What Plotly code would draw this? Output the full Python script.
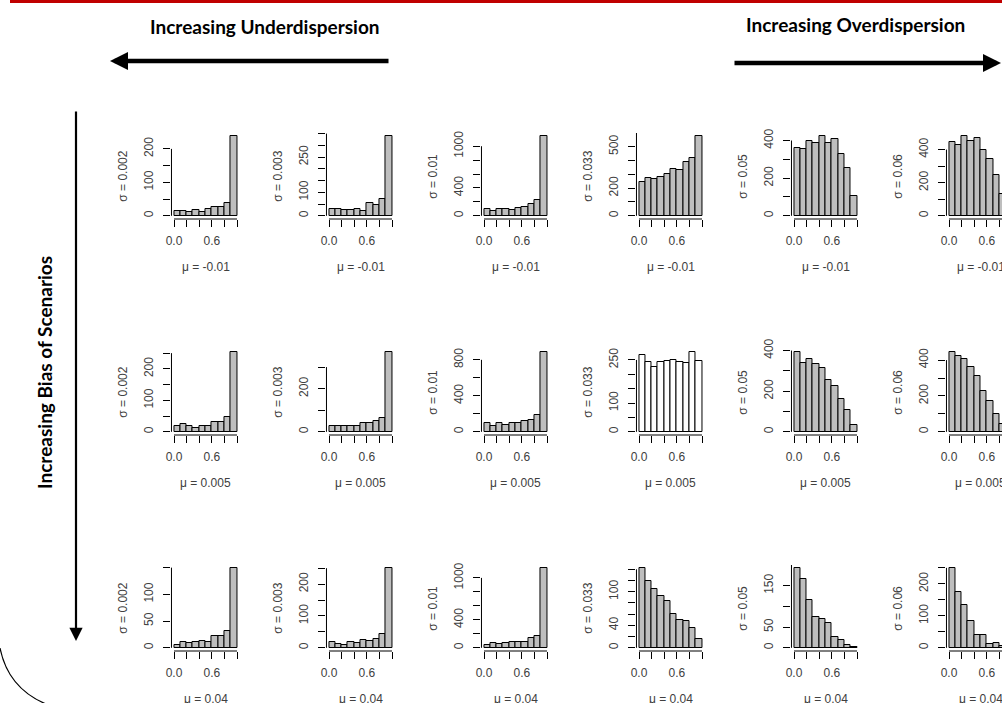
import plotly.graph_objects as go

# ---------------- data ----------------
bin_centers = [0.05, 0.15, 0.25, 0.35, 0.45, 0.55, 0.65, 0.75, 0.85, 0.95]
sigma_labels = ["0.002", "0.003", "0.01", "0.033", "0.05", "0.06"]
mu_labels = ["-0.01", "0.005", "0.04"]

counts_r1c1 = [14, 14, 11, 17, 12, 20, 25, 25, 37, 238]
counts_r1c2 = [27, 29, 24, 24, 29, 21, 53, 46, 70, 339]
counts_r1c3 = [91, 72, 91, 91, 81, 115, 120, 163, 225, 1144]
counts_r1c4 = [247, 271, 264, 283, 303, 337, 329, 390, 421, 576]
counts_r1c5 = [362, 356, 395, 388, 423, 388, 409, 330, 254, 106]
counts_r1c6 = [447, 427, 481, 451, 473, 396, 346, 245, 131, 60]
counts_r2c1 = [20, 26, 20, 13, 18, 17, 30, 32, 48, 253]
counts_r2c2 = [25, 25, 26, 26, 29, 40, 40, 49, 62, 369]
counts_r2c3 = [103, 66, 96, 81, 103, 96, 125, 129, 192, 885]
counts_r2c4 = [266, 244, 227, 244, 246, 249, 242, 241, 277, 246]
counts_r2c5 = [392, 338, 359, 333, 315, 255, 227, 163, 109, 36]
counts_r2c6 = [444, 422, 405, 363, 313, 230, 172, 102, 46, 20]
counts_r3c1 = [5, 11, 9, 11, 12, 11, 22, 23, 32, 149]
counts_r3c2 = [17, 13, 8, 17, 14, 24, 22, 28, 44, 250]
counts_r3c3 = [43, 62, 53, 62, 77, 86, 81, 134, 172, 1139]
counts_r3c4 = [142, 120, 104, 92, 83, 61, 49, 47, 36, 16]
counts_r3c5 = [192, 165, 115, 75, 69, 60, 26, 20, 8, 3]
counts_r3c6 = [249, 173, 133, 85, 39, 39, 12, 14, 5, 2]

# y tick values and the labels that are printed
yticks = [
    [0, 50, 100, 150, 200], [0, 50, 100, 150, 200, 250, 300, 350],
    [0, 200, 400, 600, 800, 1000], [0, 100, 200, 300, 400, 500, 600],
    [0, 100, 200, 300, 400], [0, 100, 200, 300, 400],
    [0, 50, 100, 150, 200, 250], [0, 100, 200, 300],
    [0, 200, 400, 600, 800], [0, 50, 100, 150, 200, 250],
    [0, 100, 200, 300, 400], [0, 100, 200, 300, 400],
    [0, 50, 100, 150], [0, 50, 100, 150, 200, 250],
    [0, 200, 400, 600, 800, 1000], [0, 20, 40, 60, 80, 100, 120, 140],
    [0, 50, 100, 150, 200], [0, 50, 100, 150, 200, 250],
]
ylabels_shown = [
    [0, 100, 200], [0, 100, 250], [0, 400, 1000], [0, 200, 500], [0, 200, 400], [0, 200, 400],
    [0, 100, 200], [0, 200], [0, 400, 800], [0, 100, 250], [0, 200, 400], [0, 200, 400],
    [0, 50, 100], [0, 100, 200], [0, 400, 1000], [0, 40, 100], [0, 50, 150], [0, 100, 200],
]
xticks = [0, 0.2, 0.4, 0.6, 0.8, 1.0]
xlabels = ["0.0", "", "", "0.6", "", ""]

all_counts = [counts_r1c1, counts_r1c2, counts_r1c3, counts_r1c4, counts_r1c5, counts_r1c6,
              counts_r2c1, counts_r2c2, counts_r2c3, counts_r2c4, counts_r2c5, counts_r2c6,
              counts_r3c1, counts_r3c2, counts_r3c3, counts_r3c4, counts_r3c5, counts_r3c6]
white_panels = [9]  # row 2, column 4

# ---------------- layout geometry (pixels) ----------------
W, H = 1002, 703
def px(x):
    return x / W
def py(y):
    return 1 - y / H

COL_X0 = 174.0      # pixel of x=0 in column 1
COL_STEP = 155.0
UNIT_W = 63.0       # pixels for x from 0 to 1
ROW_TOP = 133.0
ROW_BOT = 219.0
ROW_STEP = 216.0
TXT = "#404040"
FONT = "Liberation Sans, Arial, sans-serif"

fig = go.Figure()
shapes = []
annotations = []

for i, cnt in enumerate(all_counts):
    r, c = divmod(i, 6)
    n = i + 1
    xs = "" if n == 1 else str(n)
    xa, ya = "x" + xs, "y" + xs
    fill = "white" if i in white_panels else "#bebebe"
    fig.add_trace(go.Bar(x=bin_centers, y=cnt, width=0.1, xaxis=xa, yaxis=ya,
                         marker=dict(color=fill, line=dict(color="black", width=1)),
                         showlegend=False, hoverinfo="skip"))
    x0px = COL_X0 + COL_STEP * c
    left = x0px - 0.04 * UNIT_W
    right = x0px + 1.04 * UNIT_W
    xr = [-0.04, 1.04]
    if right > W:
        xr = [-0.04, -0.04 + (W - left) / UNIT_W]
        right = W
    top = ROW_TOP + ROW_STEP * r
    bot = ROW_BOT + ROW_STEP * r
    M = max(cnt)
    fig.update_layout(**{
        "xaxis" + xs: dict(domain=[px(left), px(right)], range=xr, anchor=ya,
                           tickvals=xticks, ticktext=xlabels, ticks="outside", ticklen=7,
                           tickwidth=1, tickcolor="black", showgrid=False, zeroline=False,
                           showline=False, ticklabelstandoff=4, automargin=False,
                           tickfont=dict(size=12, color=TXT, family=FONT),
                           fixedrange=True),
        "yaxis" + xs: dict(domain=[py(bot), py(top)], range=[-0.04 * M, 1.04 * M], anchor=xa,
                           tickvals=yticks[i],
                           ticktext=[str(v) if v in ylabels_shown[i] else "" for v in yticks[i]],
                           ticks="outside", ticklen=7, tickwidth=1, tickcolor="black",
                           tickangle=-90, showgrid=False, zeroline=False, showline=False,
                           ticklabelstandoff=6, automargin=False,
                           tickfont=dict(size=12, color=TXT, family=FONT), fixedrange=True),
    })
    # R-style axis lines spanning first to last tick
    shapes.append(dict(type="line", xref=xa, yref=ya + " domain", x0=0, x1=1, y0=0, y1=0,
                       line=dict(color="black", width=1)))
    shapes.append(dict(type="line", xref=xa + " domain", yref=ya, x0=0, x1=0, y0=0,
                       y1=yticks[i][-1], line=dict(color="black", width=1)))
    # sigma label (left) and mu label (below)
    annotations.append(dict(text="\u03c3 = " + sigma_labels[c], xref="paper", yref="paper",
                            x=px(x0px - 51.3), y=py((top + bot) / 2), textangle=-90,
                            showarrow=False, font=dict(size=12, color=TXT, family=FONT),
                            xanchor="center", yanchor="middle"))
    annotations.append(dict(text="\u03bc = " + mu_labels[r], xref="paper", yref="paper",
                            x=px(x0px + 0.5 * UNIT_W), y=py(215.8 + ROW_STEP * r + 51),
                            showarrow=False, font=dict(size=12, color=TXT, family=FONT),
                            xanchor="center", yanchor="middle"))

# ---------------- decorations ----------------
HFONT = dict(family="Lato, Open Sans, sans-serif", size=19, color="black")
annotations.append(dict(text="<b>Increasing Underdispersion</b>", xref="paper", yref="paper",
                        x=px(265), y=py(27), showarrow=False, font=HFONT,
                        xanchor="center", yanchor="middle"))
annotations.append(dict(text="<b>Increasing Overdispersion</b>", xref="paper", yref="paper",
                        x=px(855), y=py(25), showarrow=False, font=HFONT,
                        xanchor="center", yanchor="middle"))
annotations.append(dict(text="<b>Increasing Bias of Scenarios</b>", xref="paper", yref="paper",
                        x=px(44), y=py(373), showarrow=False, textangle=-90, font=HFONT,
                        xanchor="center", yanchor="middle"))
# arrows
annotations.append(dict(text="", xref="paper", yref="paper", x=px(110), y=py(61),
                        ax=280, ay=0, showarrow=True, arrowhead=2, arrowsize=0.8,
                        arrowwidth=4.5, arrowcolor="black"))
annotations.append(dict(text="", xref="paper", yref="paper", x=px(1010), y=py(63),
                        ax=-277, ay=0, showarrow=True, arrowhead=2, arrowsize=0.8,
                        arrowwidth=4.5, arrowcolor="black"))
annotations.append(dict(text="", xref="paper", yref="paper", x=px(76), y=py(641),
                        ax=0, ay=-531, showarrow=True, arrowhead=2, arrowsize=1.2,
                        arrowwidth=2.2, arrowcolor="black"))

# red rule at top
shapes.append(dict(type="rect", xref="paper", yref="paper", x0=px(10), x1=1, y0=py(3), y1=1,
                   fillcolor="#c00000", line=dict(width=0)))
# curved stroke bottom-left
shapes.append(dict(type="path", xref="paper", yref="paper",
                   path=f"M 0 {py(648)} Q {px(8)} {py(688)} {px(46)} {py(704)}",
                   line=dict(color="black", width=1.2)))

fig.update_layout(width=W, height=H,
                  margin=dict(l=0, r=0, t=0, b=0, autoexpand=False),
                  paper_bgcolor="white", plot_bgcolor="white",
                  shapes=shapes, annotations=annotations, bargap=0, showlegend=False)

fig.write_html("out.html", config={"displayModeBar": False},
               post_script="document.body.style.margin='0px';document.body.style.overflow='hidden';")
